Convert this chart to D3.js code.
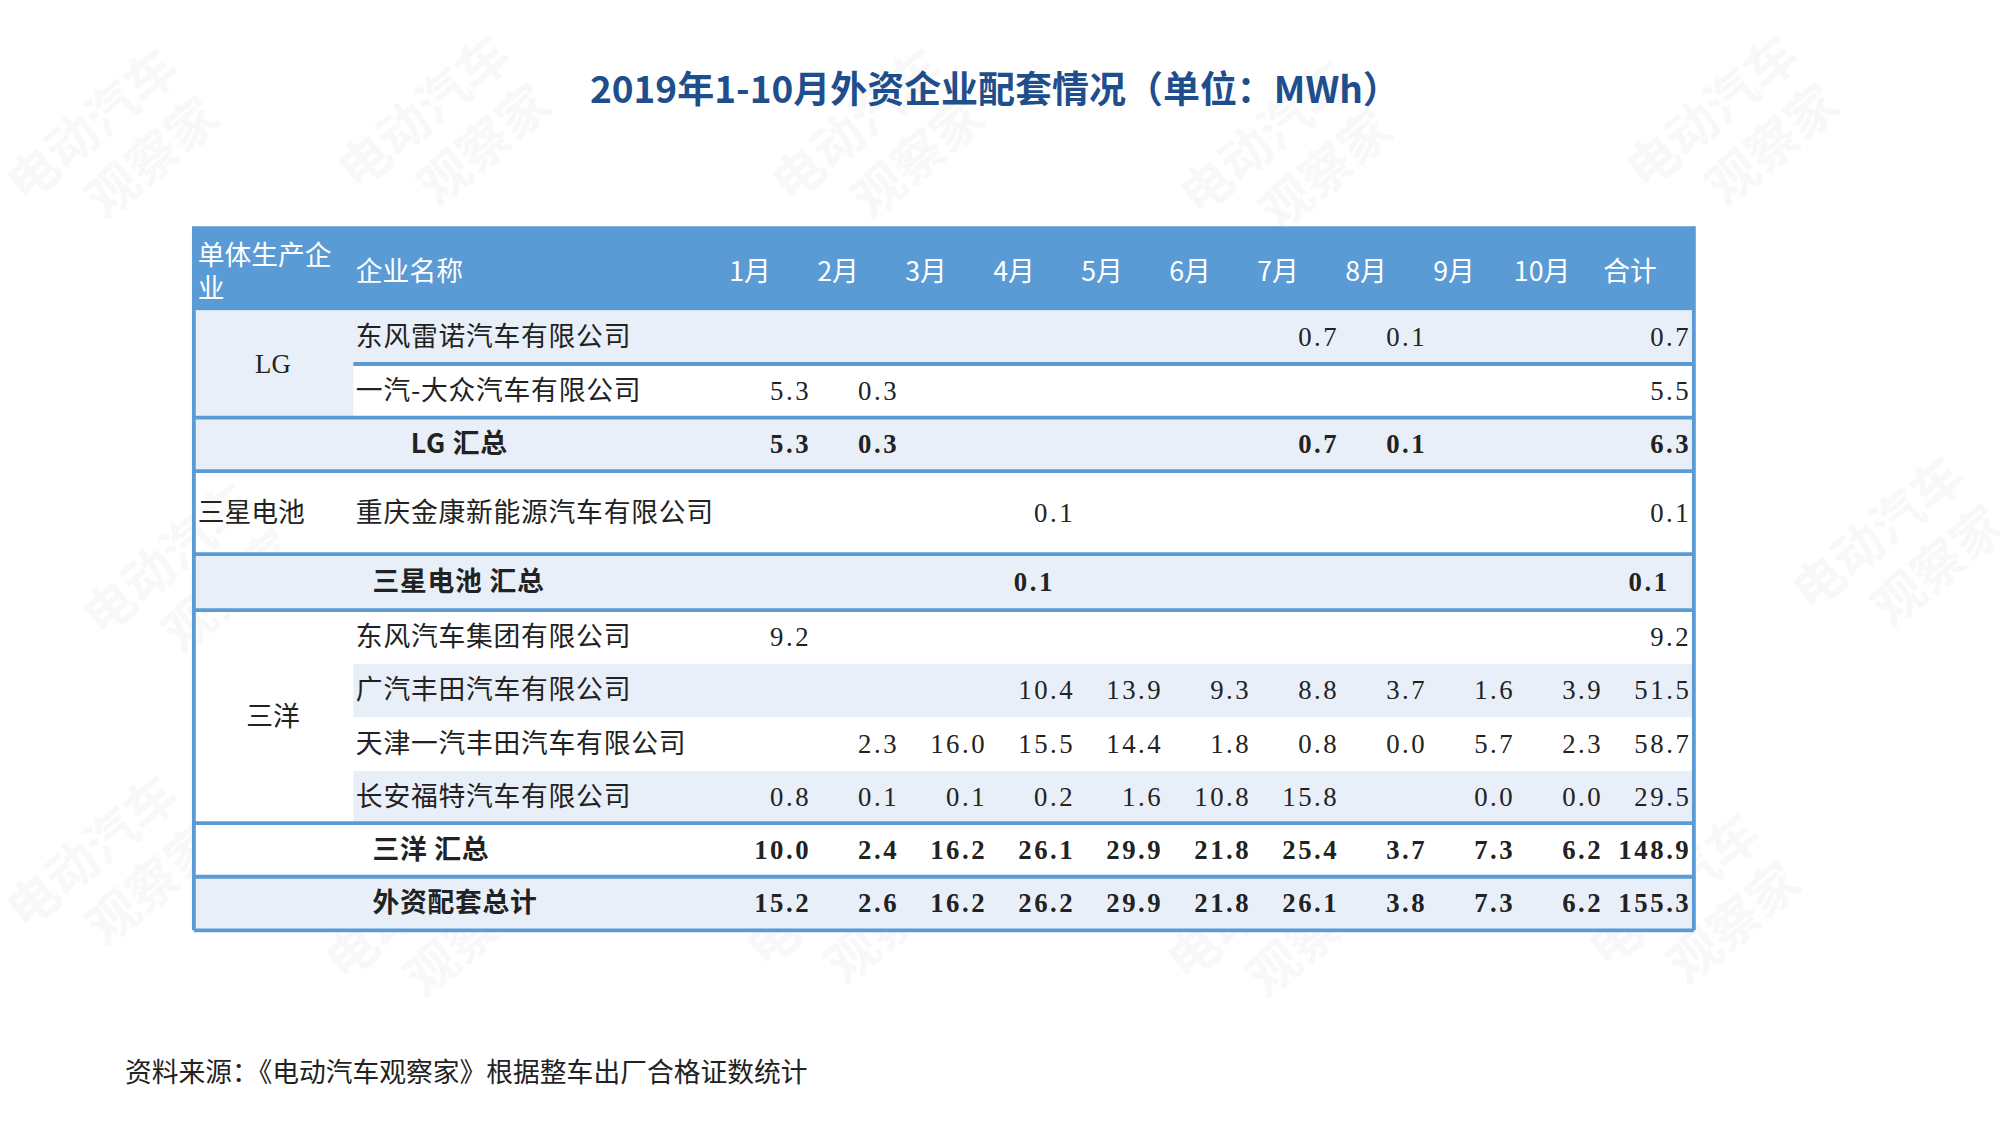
<!DOCTYPE html>
<html><head><meta charset="utf-8">
<script src="https://cdn.jsdelivr.net/npm/d3@7.9.0/dist/d3.min.js"></script>
<style>body{margin:0;background:#fff}</style>
</head><body>
<svg id="c" width="2000" height="1126" viewBox="0 0 1568 882"></svg>
<script>
const months = ['1月','2月','3月','4月','5月','6月','7月','8月','9月','10月','合计'];
const companies = ['东风雷诺汽车有限公司','一汽-大众汽车有限公司','LG 汇总','重庆金康新能源汽车有限公司','三星电池 汇总',
  '东风汽车集团有限公司','广汽丰田汽车有限公司','天津一汽丰田汽车有限公司','长安福特汽车有限公司','三洋 汇总','外资配套总计'];
const values = [
  [null,null,null,null,null,null,'0.7','0.1',null,null,'0.7'],
  ['5.3','0.3',null,null,null,null,null,null,null,null,'5.5'],
  ['5.3','0.3',null,null,null,null,'0.7','0.1',null,null,'6.3'],
  [null,null,null,'0.1',null,null,null,null,null,null,'0.1'],
  [null,null,null,'0.1',null,null,null,null,null,null,'0.1'],
  ['9.2',null,null,null,null,null,null,null,null,null,'9.2'],
  [null,null,null,'10.4','13.9','9.3','8.8','3.7','1.6','3.9','51.5'],
  [null,'2.3','16.0','15.5','14.4','1.8','0.8','0.0','5.7','2.3','58.7'],
  ['0.8','0.1','0.1','0.2','1.6','10.8','15.8',null,'0.0','0.0','29.5'],
  ['10.0','2.4','16.2','26.1','29.9','21.8','25.4','3.7','7.3','6.2','148.9'],
  ['15.2','2.6','16.2','26.2','29.9','21.8','26.1','3.8','7.3','6.2','155.3']
];
const isTotal = [false,false,true,false,true,false,false,false,false,true,true];
const shaded = [true,false,true,false,true,false,true,false,true,false,true];
const rowEdges = [243,285,327,369,434,478,520,562,604,645,687,729];
const groups = [{name:'LG',from:0,to:2},{name:'三星电池',from:3,to:4,left:true},{name:'三洋',from:5,to:9}];

const svg = d3.select('#c');
const L = 152, R = 1328, headTop = 177, headBot = 243;
const blue = '#5b9bd5', light = '#e9eff8';
const font = "'Noto Sans CJK SC', sans-serif";
const numFont = "'Liberation Serif','Noto Sans CJK SC', serif";

// watermarks
const wm = [[20,160],[280,150],[620,160],[940,170],[1290,150],[80,500],[1420,480],[20,730],[270,770],[600,760],[930,770],[1260,760]];
svg.selectAll('g.wm').data(wm).join('g')
  .attr('transform', d => `translate(${d[0]},${d[1]}) rotate(-40)`)
  .each(function() {
    const g = d3.select(this);
    g.append('text').attr('font-family', font).attr('font-size', 40).attr('font-weight', 'bold')
      .attr('fill', '#000').attr('opacity', 0.025).text('电动汽车');
    g.append('text').attr('x', 40).attr('y', 50).attr('font-family', font).attr('font-size', 40).attr('font-weight', 'bold')
      .attr('fill', '#000').attr('opacity', 0.025).text('观察家');
  });

svg.append('text').attr('x', 780).attr('y', 80).attr('text-anchor', 'middle')
  .attr('font-family', font).attr('font-size', 29).attr('font-weight', 'bold').attr('fill', '#1f4e8c')
  .text('2019年1-10月外资企业配套情况（单位：MWh）');

const x = d3.scaleLinear().domain([0, 10]).range([636, 1326]);

// header
svg.append('rect').attr('x', L).attr('y', headTop).attr('width', R - L).attr('height', headBot - headTop).attr('fill', blue);
svg.append('text').attr('x', 155).attr('y', 207).attr('font-family', font).attr('font-size', 21).attr('fill', '#fff').text('单体生产企');
svg.append('text').attr('x', 155).attr('y', 233).attr('font-family', font).attr('font-size', 21).attr('fill', '#fff').text('业');
svg.append('text').attr('x', 279).attr('y', 220).attr('font-family', font).attr('font-size', 21).attr('fill', '#fff').text('企业名称');
svg.selectAll('text.mh').data(months).join('text')
  .attr('x', (d, i) => x(i) - 48).attr('y', 220).attr('text-anchor', 'middle')
  .attr('font-family', font).attr('font-size', 21).attr('fill', '#fff').text(d => d);

// row backgrounds
svg.selectAll('rect.row').data(companies).join('rect')
  .attr('x', 277).attr('y', (d, i) => rowEdges[i]).attr('width', R - 277)
  .attr('height', (d, i) => rowEdges[i + 1] - rowEdges[i])
  .attr('fill', (d, i) => shaded[i] ? light : '#fff');
svg.append('rect').attr('x', L).attr('y', 243).attr('width', 125).attr('height', 84).attr('fill', light);
svg.selectAll('rect.tot').data(companies.map((d, i) => i).filter(i => isTotal[i])).join('rect')
  .attr('x', L).attr('y', i => rowEdges[i]).attr('width', 125).attr('height', i => rowEdges[i + 1] - rowEdges[i])
  .attr('fill', i => shaded[i] ? light : '#fff');

// lines
const lines = [[L,327],[L,369],[L,434],[L,478],[L,645],[L,687],[L,729],[277,285]];
svg.selectAll('line.h').data(lines).join('line')
  .attr('x1', d => d[0]).attr('x2', R).attr('y1', d => d[1]).attr('y2', d => d[1])
  .attr('stroke', blue).attr('stroke-width', 3);
svg.append('line').attr('x1', L).attr('x2', L).attr('y1', headTop).attr('y2', 729).attr('stroke', blue).attr('stroke-width', 3);
svg.append('line').attr('x1', R).attr('x2', R).attr('y1', headTop).attr('y2', 729).attr('stroke', blue).attr('stroke-width', 3);

// group labels
svg.selectAll('text.grp').data(groups).join('text')
  .attr('x', d => d.left ? 155 : 214).attr('text-anchor', d => d.left ? 'start' : 'middle')
  .attr('y', d => (rowEdges[d.from] + rowEdges[d.to]) / 2 + 7)
  .attr('font-family', d => d.name === 'LG' ? numFont : font).attr('font-size', 21).attr('fill', '#222').text(d => d.name);

// company names
const midY = i => (rowEdges[i] + rowEdges[i + 1]) / 2 + 7;
svg.selectAll('text.co').data(companies).join('text')
  .attr('x', (d, i) => !isTotal[i] ? 279 : (i === 2 ? 322 : 292)).attr('y', (d, i) => midY(i))
  .attr('font-family', font).attr('font-size', 21).attr('letter-spacing', 0.6)
  .attr('font-weight', (d, i) => isTotal[i] ? 'bold' : 'normal')
  .attr('fill', '#222').text(d => d);

// values
values.forEach((row, r) => {
  svg.selectAll(null).data(row.map((v, c) => ({v, c})).filter(d => d.v !== null)).join('text')
    .attr('x', d => r === 4 ? (d.c === 3 ? 827 : 1309) : x(d.c))
    .attr('y', midY(r)).attr('text-anchor', 'end')
    .attr('font-family', numFont).attr('font-size', 21).attr('letter-spacing', 2)
    .attr('font-weight', isTotal[r] ? 'bold' : 'normal').attr('fill', '#222').text(d => d.v);
});

svg.append('text').attr('x', 98).attr('y', 848).attr('font-family', font).attr('font-size', 21).attr('fill', '#222')
  .text('资料来源：《电动汽车观察家》根据整车出厂合格证数统计');
</script>
</body></html>
